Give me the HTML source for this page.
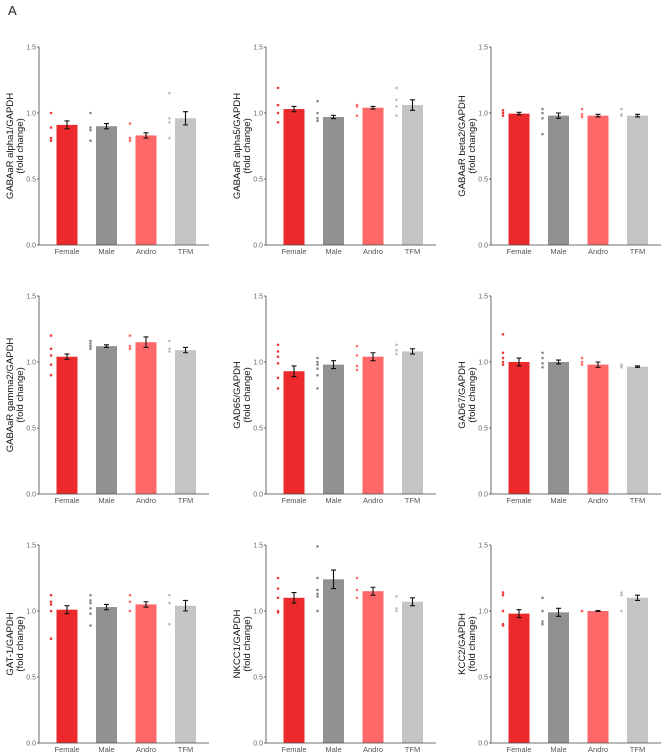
<!DOCTYPE html>
<html><head><meta charset="utf-8">
<style>
html,body{margin:0;padding:0;background:#fff;}
svg{display:block;font-family:"Liberation Sans",sans-serif;}
</style></head>
<body>
<svg id="fig" width="670" height="754" viewBox="0 0 670 754">
<text x="8" y="15" font-size="13" fill="#222">A</text>
</svg>
<script>
const categories = ["Female","Male","Andro","TFM"];
const yTicks = [0, 0.5, 1.0, 1.5];
const yTickLabels = ["0.0","0.5","1.0","1.5"];
const panelTitles = ["GABAaR alpha1/GAPDH","GABAaR alpha5/GAPDH","GABAaR beta2/GAPDH","GABAaR gamma2/GAPDH","GAD65/GAPDH","GAD67/GAPDH","GAT-1/GAPDH","NKCC1/GAPDH","KCC2/GAPDH"];
const means = [
 [0.91,0.90,0.83,0.96],[1.03,0.97,1.04,1.06],[0.995,0.98,0.98,0.98],
 [1.04,1.12,1.15,1.09],[0.93,0.98,1.04,1.08],[1.00,1.00,0.98,0.965],
 [1.01,1.03,1.05,1.04],[1.10,1.24,1.15,1.07],[0.98,0.99,1.00,1.10]];
const sems = [
 [0.03,0.02,0.02,0.05],[0.02,0.012,0.01,0.04],[0.01,0.02,0.01,0.01],
 [0.02,0.01,0.04,0.02],[0.04,0.03,0.03,0.02],[0.03,0.015,0.02,0.005],
 [0.03,0.02,0.02,0.04],[0.04,0.07,0.03,0.03],[0.03,0.03,0.003,0.02]];
const points = [
 [[1.0,0.89,0.81,0.79],[1.0,0.89,0.87,0.79],[0.92,0.81,0.79],[1.15,0.96,0.93,0.81]],
 [[1.19,1.06,1.0,0.93],[1.09,1.0,0.96,0.94],[1.06,1.05,0.98],[1.19,1.1,1.05,0.98]],
 [[1.02,1.0,0.98],[1.03,1.0,0.96,0.84],[1.03,0.99,0.97],[1.03,0.99,0.98]],
 [[1.2,1.1,1.05,0.98,0.9],[1.16,1.14,1.12,1.1],[1.2,1.12,1.1],[1.16,1.1,1.08]],
 [[1.13,1.08,1.04,0.99,0.88,0.8],[1.03,1.0,0.98,0.95,0.9,0.8],[1.12,1.05,0.97,0.94],[1.13,1.09,1.06]],
 [[1.21,1.07,1.03,1.0,0.98],[1.07,1.03,0.99,0.96],[1.03,1.0,0.98],[0.98,0.97,0.96]],
 [[1.12,1.07,1.05,1.0,0.79],[1.12,1.08,1.06,1.02,0.98,0.89],[1.12,1.07,1.0],[1.12,1.06,0.9]],
 [[1.25,1.17,1.1,1.0,0.99],[1.49,1.25,1.16,1.13,1.11,1.0],[1.25,1.16,1.1],[1.11,1.02,1.0]],
 [[1.14,1.12,1.0,0.9,0.89],[1.1,1.0,0.92,0.9],[1.0,1.0,1.0],[1.14,1.12,1.0]]];
const barColors = ["#ec2a2c","#919191","#ff6868","#c4c4c4"];
const dotColors = ["#ee3a3a","#8a8a8a","#ff6a6a","#bcbcbc"];
const NS="http://www.w3.org/2000/svg";
const svg=document.getElementById("fig");
function mk(tag,attrs,parent){const e=document.createElementNS(NS,tag);for(const k in attrs)e.setAttribute(k,attrs[k]);(parent||svg).appendChild(e);return e;}
const colX=[39,266,491], rowTop=[47,296,545], H=198, W=170;
for(let p=0;p<9;p++){
  const ax=colX[p%3], top=rowTop[Math.floor(p/3)], base=top+H;
  const yS=v=>base-v/1.5*H;
  const xS=i=>ax+28+i*39.5;
  const g=mk("g",{});
  
  
  for(let i=0;i<4;i++){
    const b=mk("rect",{x:xS(i)-10.5,y:yS(means[p][i]),width:21,height:base-yS(means[p][i]),fill:barColors[i]},g);
    
    
    points[p][i].forEach(v=>{
      const c=mk("circle",{cx:xS(i)-16,cy:yS(v),r:1.3,fill:dotColors[i]},g);
      
      
    });
    const hi=yS(means[p][i]+sems[p][i]), lo=yS(means[p][i]-sems[p][i]), cx=xS(i);
    const eb=mk("path",{d:`M${cx},${hi}V${lo}M${cx-2.5},${hi}H${cx+2.5}M${cx-2.5},${lo}H${cx+2.5}`,stroke:"#111",'stroke-width':1.1,fill:"none"},g);
    
    
    const t=mk("text",{x:cx,y:base+9,'font-size':7.5,fill:"#555",'text-anchor':"middle"},g);
    t.textContent=categories[i];
    
    
  }
  const axes=mk("path",{d:`M${ax},${top}V${base}H${ax+W}`,stroke:"#444",'stroke-width':0.8,fill:"none"},g);
  
  
  yTicks.forEach((v,k)=>{
    mk("line",{x1:ax-2,x2:ax,y1:yS(v),y2:yS(v),stroke:"#444",'stroke-width':0.8},g);
    const t=mk("text",{x:ax-3,y:yS(v)+2.5,'font-size':7,fill:"#666",'text-anchor':"end"},g);
    t.textContent=yTickLabels[k];
    
    
  });
  const cy=top+H/2;
  const yt=mk("text",{transform:`translate(${ax-22},${cy}) rotate(-90)`,'font-size':9.5,fill:"#111",'text-anchor':"middle"},g);
  
  
  const t1=mk("tspan",{x:0,y:-4},yt); t1.textContent=panelTitles[p];
  const t2=mk("tspan",{x:0,y:6},yt); t2.textContent="(fold change)";
}
</script>
</body></html>
